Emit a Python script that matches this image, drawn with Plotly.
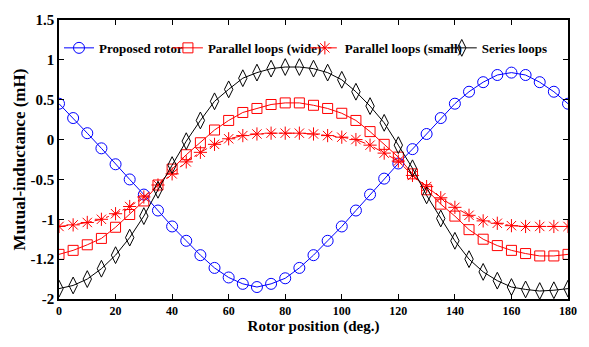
import plotly.graph_objects as go

# Rotor position (deg.), sampled every 5 degrees
position = list(range(0, 181, 5))

# Mutual inductance (mH) for each rotor configuration
proposed_rotor = [0.45, 0.27, 0.08, -0.11, -0.31, -0.50, -0.69, -0.89, -1.09, -1.27,
                  -1.45, -1.61, -1.73, -1.81, -1.85, -1.81, -1.74, -1.61, -1.45, -1.27,
                  -1.09, -0.89, -0.69, -0.49, -0.30, -0.12, 0.07, 0.27, 0.45, 0.60,
                  0.72, 0.81, 0.84, 0.81, 0.72, 0.60, 0.45]
parallel_wide = [-1.44, -1.39, -1.32, -1.24, -1.10, -0.94, -0.77, -0.57, -0.37, -0.19,
                 -0.04, 0.12, 0.24, 0.34, 0.39, 0.44, 0.46, 0.46, 0.43, 0.39,
                 0.33, 0.24, 0.10, -0.06, -0.22, -0.43, -0.63, -0.81, -0.96, -1.13,
                 -1.25, -1.33, -1.39, -1.43, -1.46, -1.46, -1.44]
parallel_small = [-1.09, -1.07, -1.04, -1.00, -0.93, -0.84, -0.72, -0.57, -0.43, -0.28,
                  -0.16, -0.06, 0.01, 0.05, 0.07, 0.08, 0.08, 0.08, 0.07, 0.05,
                  0.03, 0.00, -0.07, -0.17, -0.27, -0.45, -0.59, -0.73, -0.85, -0.95,
                  -1.02, -1.05, -1.08, -1.09, -1.09, -1.09, -1.09]
series_loops = [-1.87, -1.83, -1.75, -1.62, -1.45, -1.23, -0.96, -0.63, -0.32, -0.02,
                0.24, 0.48, 0.63, 0.77, 0.84, 0.89, 0.91, 0.91, 0.89, 0.84,
                0.75, 0.60, 0.42, 0.21, -0.07, -0.36, -0.70, -0.99, -1.27, -1.50,
                -1.66, -1.77, -1.85, -1.88, -1.90, -1.89, -1.87]

x_ticks = [0, 20, 40, 60, 80, 100, 120, 140, 160, 180]
y_ticks = [1.5, 1, 0.5, 0, -0.5, -1, -1.5, -2]
y_ticktext = ["1.5", "1", "0.5", "0", "-0.5", "-1", "-1.2", "-2"]

serif = "Liberation Serif, 'Times New Roman', 'DejaVu Serif', serif"

fig = go.Figure()

# each series gets its own one-entry legend so the entries sit in a single row
fig.add_trace(go.Scatter(
    x=position, y=proposed_rotor, name="Proposed rotor", mode="lines+markers",
    legend="legend",
    line=dict(color="#0000FF", width=1),
    marker=dict(symbol="circle-open", size=11, color="#0000FF", line=dict(width=1)),
))
fig.add_trace(go.Scatter(
    x=position, y=parallel_wide, name="Parallel loops (wide)", mode="lines+markers",
    legend="legend2",
    line=dict(color="#FF0000", width=1),
    marker=dict(symbol="square-open", size=10, color="#FF0000", line=dict(width=1)),
))
fig.add_trace(go.Scatter(
    x=position, y=parallel_small, name="Parallel loops (small)", mode="lines+markers",
    legend="legend3",
    line=dict(color="#FF0000", width=1, dash="dashdot"),
    marker=dict(symbol="asterisk-open", size=11, color="#FF0000", line=dict(width=1, color="#FF0000")),
))
fig.add_trace(go.Scatter(
    x=position, y=series_loops, name="Series loops", mode="lines+markers",
    legend="legend4",
    line=dict(color="#000000", width=1),
    marker=dict(symbol="diamond-tall-open", size=12, color="#000000", line=dict(width=1)),
))

axis_common = dict(
    showline=True, linecolor="black", linewidth=1.5, mirror="ticks",
    ticks="inside", ticklen=5, tickcolor="black", showgrid=False, zeroline=False,
)

legend_font = dict(family=serif, size=13, color="black", weight="bold")


def legend_at(x):
    return dict(x=x, y=0.90, xanchor="left", yanchor="middle", bgcolor="rgba(0,0,0,0)",
                itemwidth=30, font=legend_font)


fig.update_layout(
    width=589, height=347,
    margin=dict(l=59, r=19, t=16, b=48),
    paper_bgcolor="white", plot_bgcolor="white",
    font=dict(family=serif, color="black"),
    showlegend=True,
    xaxis=dict(
        range=[0, 180], tickvals=x_ticks,
        tickfont=dict(family=serif, size=12, color="black", weight="bold"),
        title=dict(text="Rotor position (deg.)", standoff=1,
                   font=dict(family=serif, size=15, color="black", weight="bold")),
        **axis_common,
    ),
    yaxis=dict(
        range=[-2, 1.5], tickvals=y_ticks, ticktext=y_ticktext,
        tickfont=dict(family=serif, size=15, color="black", weight="bold"),
        title=dict(text="Mutual-inductance (mH)", standoff=1,
                   font=dict(family=serif, size=17, color="black", weight="bold")),
        **axis_common,
    ),
    legend=legend_at(0.0),
    legend2=legend_at(0.214),
    legend3=legend_at(0.483),
    legend4=legend_at(0.752),
)

fig.write_html("out.html")
